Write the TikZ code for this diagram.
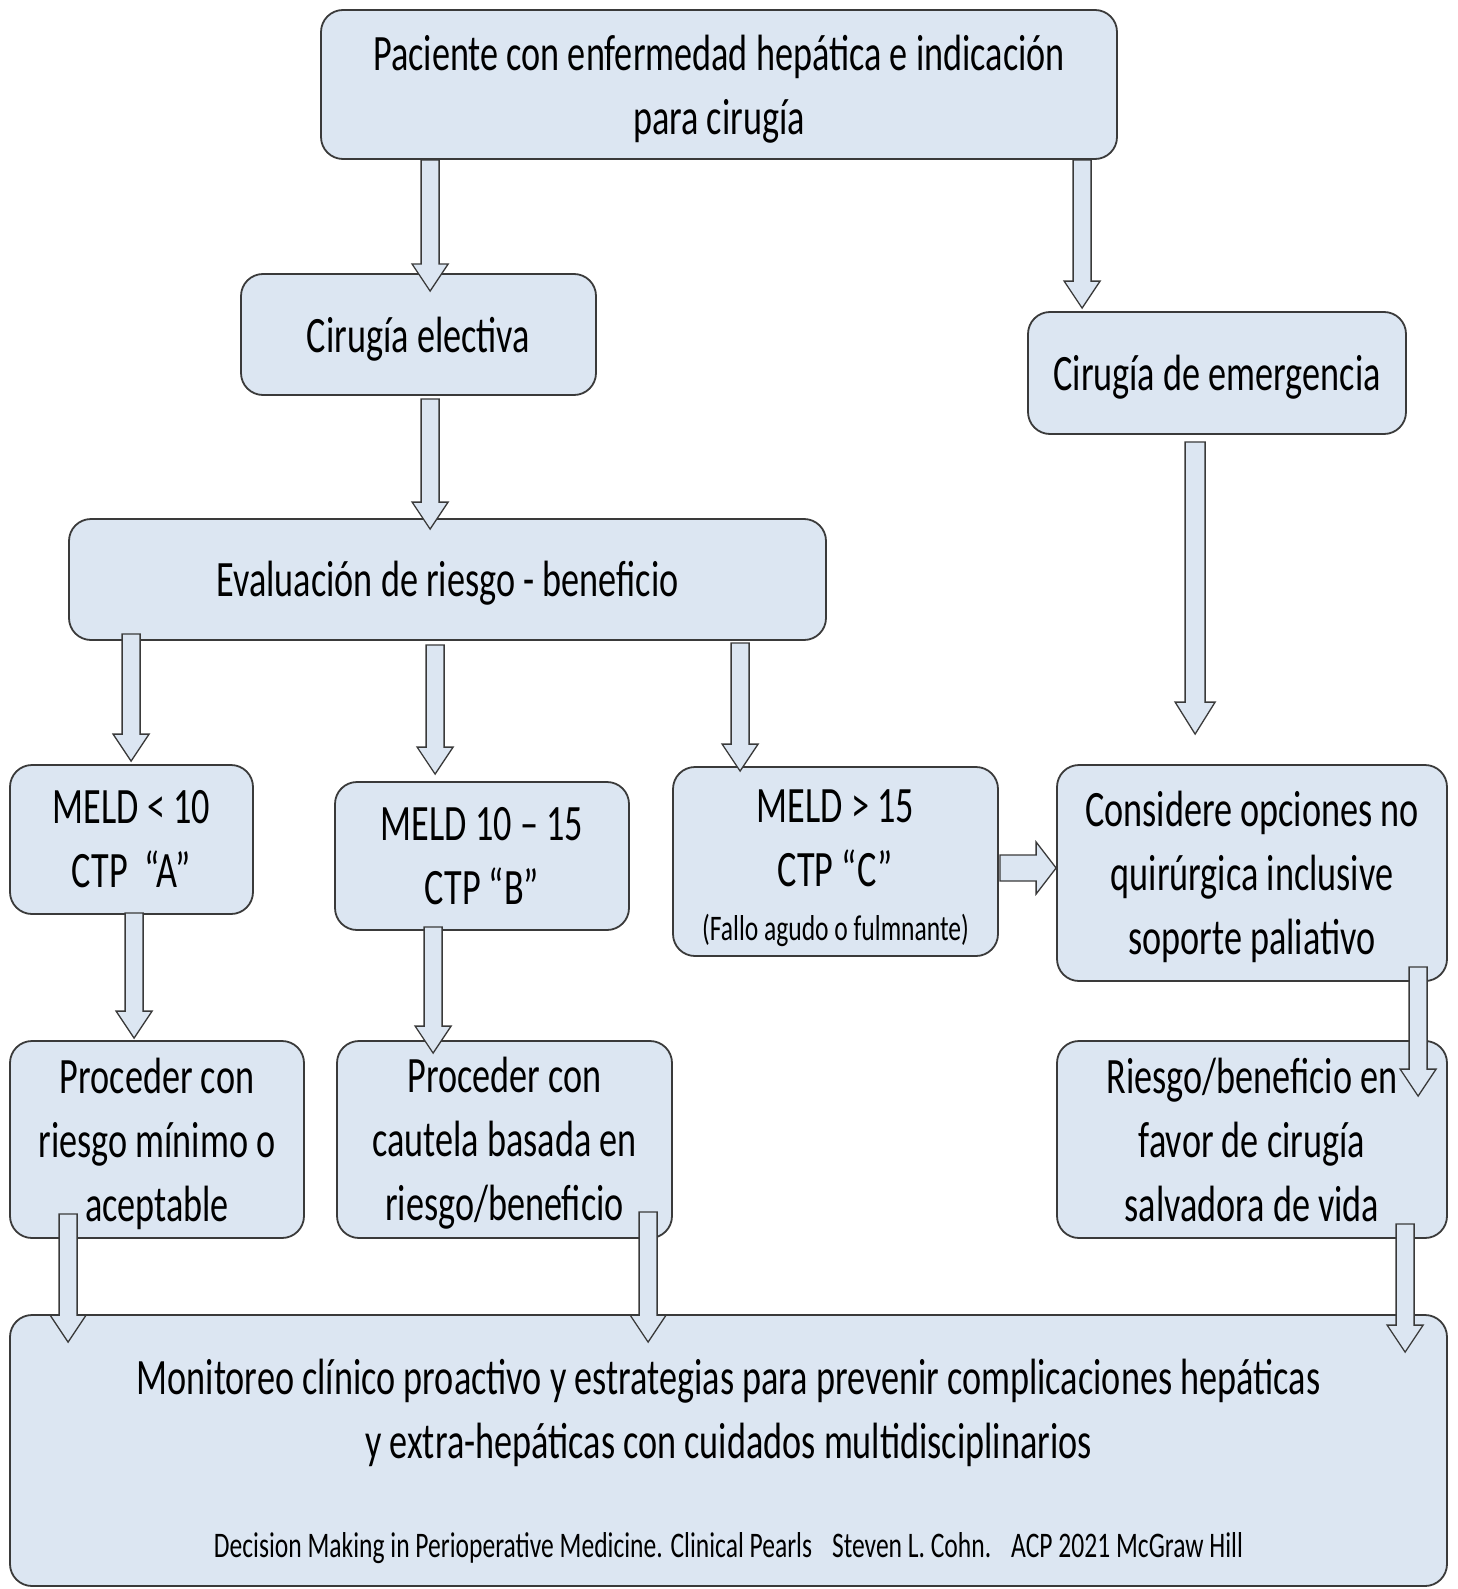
\documentclass[tikz,border=0pt]{standalone}
\usepackage{fontspec}
\setmainfont{Carlito}[FakeStretch=0.71]
\usetikzlibrary{calc}
\definecolor{boxfill}{HTML}{DCE6F2}
\definecolor{boxline}{HTML}{3A3A3A}
\tikzset{
  box/.style={draw=boxline, line width=1.8pt, fill=boxfill, rounded corners=22pt, inner sep=0pt},
  txt/.style={align=center, inner sep=0pt, font=\fontsize{51}{64}\selectfont},
  small/.style={align=center, inner sep=0pt, font=\fontsize{36}{44}\selectfont},
  barrow/.style={draw=boxline, line width=1.3pt, fill=boxfill, line join=miter}
}
% box with its text: name, x, y, width, height, text drop, text
\newcommand{\bx}[7]{%
  \node[box, minimum width=#4pt, minimum height=#5pt] (#1) at (#2,#3) {};
  \node[txt] (#1t) at ([yshift=-#6pt]#1.center) {#7};}
% vertical block arrow: from, to, half shaft, half head, head length
\newcommand{\varr}[5]{%
  \draw[barrow] let \p1=(#1), \p2=(#2) in
    (\x1-#3pt,\y1) -- (\x1-#3pt,\y2+#5pt) -- (\x1-#4pt,\y2+#5pt) -- (\x1,\y2)
    -- (\x1+#4pt,\y2+#5pt) -- (\x1+#3pt,\y2+#5pt) -- (\x1+#3pt,\y1) -- cycle;}
% horizontal block arrow (rightwards)
\newcommand{\harr}[5]{%
  \draw[barrow] let \p1=(#1), \p2=(#2) in
    (\x1,\y1+#3pt) -- (\x2-#5pt,\y1+#3pt) -- (\x2-#5pt,\y1+#4pt) -- (\x2,\y1)
    -- (\x2-#5pt,\y1-#4pt) -- (\x2-#5pt,\y1-#3pt) -- (\x1,\y1-#3pt) -- cycle;}
\begin{document}
\begin{tikzpicture}[x=1pt,y=-1pt]
\useasboundingbox (0,0) rectangle (1457,1589);

\bx{top}{719}{84.5}{796}{149}{5}{Paciente con enfermedad hepática e indicación\\para cirugía}
\bx{el}{418.5}{334.5}{355}{121}{5}{Cirugía electiva}
\bx{em}{1217}{373}{378}{122}{4}{Cirugía de emergencia}
\bx{ev}{447.5}{579.5}{757}{121}{4}{Evaluación de riesgo - beneficio}
\bx{m1}{131.5}{839.5}{243}{149}{0}{MELD < 10\\CTP \ “A”}
\bx{m2}{482}{856}{294}{148}{0}{MELD 10 – 15\\CTP “B”}
\node[box, minimum width=325pt, minimum height=189pt] (m3) at (835.5,861.5) {};
\node[txt, anchor=north] (m3t) at (835.5,789) {MELD > 15\\CTP “C”};
\node[small] (m3s) at (835.5,930) {(Fallo agudo o fulmnante)};
\bx{co}{1252}{873}{390}{216}{4}{Considere opciones no\\quirúrgica inclusive\\soporte paliativo}
\bx{p1}{157}{1139.5}{294}{197}{4}{Proceder con\\riesgo mínimo o\\aceptable}
\bx{p2}{504.5}{1139.5}{335}{197}{4}{Proceder con\\cautela basada en\\riesgo/beneficio}
\bx{ri}{1252}{1139.5}{390}{197}{0}{Riesgo/beneficio en\\favor de cirugía\\salvadora de vida}
\node[box, minimum width=1437pt, minimum height=271pt] (bo) at (728.5,1450.5) {};
\node[txt] (bot) at (728.5,1413)
  {Monitoreo clínico proactivo y estrategias para prevenir complicaciones hepáticas\\y extra-hepáticas con cuidados multidisciplinarios};
\node[small] (boc) at (728.5,1548)
  {Decision Making in Perioperative Medicine. Clinical Pearls\hspace{20pt}Steven L. Cohn.\hspace{20pt}ACP 2021 McGraw Hill};

% arrows
\varr{[xshift=110pt]top.south west}{[yshift=-18pt]el.north}{9}{18}{27}
\varr{[xshift=762pt]top.south west}{[yshift=3pt]em.north}{9}{18}{27}
\varr{[xshift=190pt,yshift=-3pt]el.south west}{[yshift=-11pt]ev.north}{9}{18}{27}
\varr{[xshift=168pt,yshift=-7pt]em.south west}{[yshift=30pt]co.north}{10}{20}{32}
\varr{[xshift=63pt,yshift=7pt]ev.south west}{[yshift=3pt]m1.north}{9}{18}{27}
\varr{[xshift=367pt,yshift=-4pt]ev.south west}{[yshift=7pt]m2.north}{9}{18}{27}
\varr{[xshift=672pt,yshift=-2pt]ev.south west}{[yshift=-5pt]m3.north}{9}{18}{27}
\harr{[xshift=1pt,yshift=-6.5pt]m3.east}{co.west}{13}{26}{20}
\varr{[xshift=125pt,yshift=2pt]m1.south west}{[yshift=2pt]p1.north}{9}{18}{27}
\varr{[xshift=99pt,yshift=4pt]m2.south west}{[yshift=-13pt]p2.north}{9}{18}{27}
\varr{[xshift=362pt,yshift=15pt]co.south west}{[yshift=-56pt]ri.north}{9}{18}{27}
\varr{[xshift=59pt,yshift=25pt]p1.south west}{[yshift=-28pt]bo.north}{9}{18}{27}
\varr{[xshift=312pt,yshift=27pt]p2.south west}{[yshift=-28pt]bo.north}{9}{18}{27}
\varr{[xshift=349pt,yshift=15pt]ri.south west}{[yshift=-38pt]bo.north}{9}{18}{27}
\end{tikzpicture}
\end{document}
